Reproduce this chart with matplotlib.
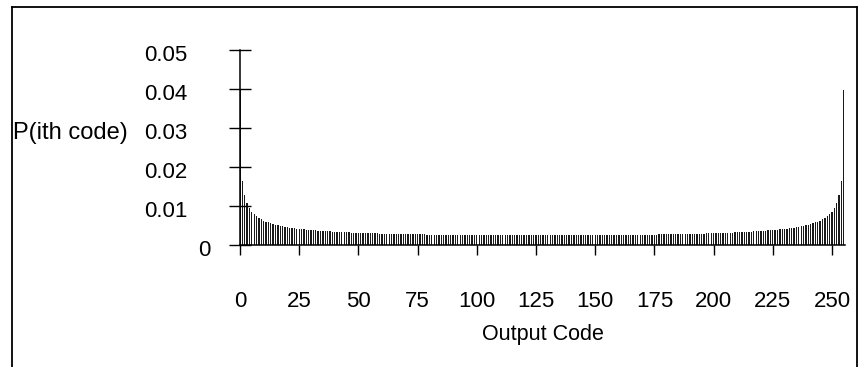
import numpy as np
import matplotlib
matplotlib.use('Agg')
from matplotlib import pyplot as plt
from matplotlib import transforms
from matplotlib import font_manager
from matplotlib.lines import Line2D

# a narrow face is closest to the original; fall back to Liberation Sans
installed = {f.name for f in font_manager.fontManager.ttflist}
if 'Liberation Sans Narrow' in installed:
    plt.rcParams['font.family'] = ['Liberation Sans Narrow', 'DejaVu Sans']
    tick_fs, xlab_fs, ylab_fs = 16.5, 17, 17
else:
    plt.rcParams['font.family'] = ['Liberation Sans', 'DejaVu Sans']
    tick_fs, xlab_fs, ylab_fs = 16, 15.5, 17

# probability of each output code
prob = [
    0.03981, 0.01653, 0.01271, 0.01073, 0.00948, 0.00858, 0.00791, 0.00738, 0.00694, 0.00658, 0.00627, 0.00600, 0.00577, 0.00556, 0.00538, 0.00521,
    0.00506, 0.00493, 0.00480, 0.00469, 0.00458, 0.00448, 0.00439, 0.00431, 0.00423, 0.00415, 0.00408, 0.00402, 0.00395, 0.00389, 0.00384, 0.00379,
    0.00374, 0.00369, 0.00364, 0.00360, 0.00356, 0.00352, 0.00348, 0.00344, 0.00341, 0.00337, 0.00334, 0.00331, 0.00328, 0.00325, 0.00323, 0.00320,
    0.00317, 0.00315, 0.00313, 0.00310, 0.00308, 0.00306, 0.00304, 0.00302, 0.00300, 0.00298, 0.00296, 0.00294, 0.00293, 0.00291, 0.00290, 0.00288,
    0.00286, 0.00285, 0.00284, 0.00282, 0.00281, 0.00280, 0.00278, 0.00277, 0.00276, 0.00275, 0.00274, 0.00273, 0.00272, 0.00271, 0.00270, 0.00269,
    0.00268, 0.00267, 0.00266, 0.00265, 0.00264, 0.00264, 0.00263, 0.00262, 0.00261, 0.00261, 0.00260, 0.00259, 0.00259, 0.00258, 0.00258, 0.00257,
    0.00257, 0.00256, 0.00256, 0.00255, 0.00255, 0.00254, 0.00254, 0.00253, 0.00253, 0.00253, 0.00252, 0.00252, 0.00252, 0.00251, 0.00251, 0.00251,
    0.00251, 0.00250, 0.00250, 0.00250, 0.00250, 0.00250, 0.00249, 0.00249, 0.00249, 0.00249, 0.00249, 0.00249, 0.00249, 0.00249, 0.00249, 0.00249,
    0.00249, 0.00249, 0.00249, 0.00249, 0.00249, 0.00249, 0.00249, 0.00249, 0.00249, 0.00249, 0.00250, 0.00250, 0.00250, 0.00250, 0.00250, 0.00251,
    0.00251, 0.00251, 0.00251, 0.00252, 0.00252, 0.00252, 0.00253, 0.00253, 0.00253, 0.00254, 0.00254, 0.00255, 0.00255, 0.00256, 0.00256, 0.00257,
    0.00257, 0.00258, 0.00258, 0.00259, 0.00259, 0.00260, 0.00261, 0.00261, 0.00262, 0.00263, 0.00264, 0.00264, 0.00265, 0.00266, 0.00267, 0.00268,
    0.00269, 0.00270, 0.00271, 0.00272, 0.00273, 0.00274, 0.00275, 0.00276, 0.00277, 0.00278, 0.00280, 0.00281, 0.00282, 0.00284, 0.00285, 0.00286,
    0.00288, 0.00290, 0.00291, 0.00293, 0.00294, 0.00296, 0.00298, 0.00300, 0.00302, 0.00304, 0.00306, 0.00308, 0.00310, 0.00313, 0.00315, 0.00317,
    0.00320, 0.00323, 0.00325, 0.00328, 0.00331, 0.00334, 0.00337, 0.00341, 0.00344, 0.00348, 0.00352, 0.00356, 0.00360, 0.00364, 0.00369, 0.00374,
    0.00379, 0.00384, 0.00389, 0.00395, 0.00402, 0.00408, 0.00415, 0.00423, 0.00431, 0.00439, 0.00448, 0.00458, 0.00469, 0.00480, 0.00493, 0.00506,
    0.00521, 0.00538, 0.00556, 0.00577, 0.00600, 0.00627, 0.00658, 0.00694, 0.00738, 0.00791, 0.00858, 0.00948, 0.01073, 0.01271, 0.01653, 0.03981,
]
codes = np.arange(len(prob))

xticks = [0, 25, 50, 75, 100, 125, 150, 175, 200, 225, 250]
yticks = [0, 0.01, 0.02, 0.03, 0.04, 0.05]
ylabels = ['0', '0.01', '0.02', '0.03', '0.04', '0.05']

W, H = 860, 367
fig = plt.figure(figsize=(W / 100, H / 100), dpi=100)
ax = fig.add_axes([240 / W, 122 / H, 605 / W, 195 / H])

ax.bar(codes, prob, width=0.55, color='#1a1a1a', linewidth=0)

ax.set_xlim(0, 255.5)
ax.set_ylim(0, 0.05)
for s in ['top', 'right']:
    ax.spines[s].set_visible(False)
ax.spines['left'].set_linewidth(1.1)
ax.spines['bottom'].set_linewidth(1.1)

ax.set_xticks(xticks)
ax.set_xticklabels([str(t) for t in xticks])
ax.set_yticks(yticks)
ax.set_yticklabels(ylabels)
ax.tick_params(axis='y', direction='inout', length=16, width=1, pad=30, labelsize=tick_fs)
ax.tick_params(axis='x', direction='out', length=7, width=1, pad=26, labelsize=tick_fs)

# labels sit a little below their ticks; the zero label sits closer to the axis
for i, lab in enumerate(ax.get_yticklabels()):
    dx = 23 / 100 if i == 0 else 0
    lab.set_transform(lab.get_transform() + transforms.ScaledTranslation(dx, -3 / 100, fig.dpi_scale_trans))

ax.set_xlabel('Output Code', fontsize=xlab_fs, labelpad=9)
fig.text(13 / W, 1 - 133 / H, 'P(ith code)', fontsize=ylab_fs, ha='left', va='center')

# outer frame
for xs, ys in [([12 / W, 12 / W], [-0.05, 1 - 7 / H]),
               ([12 / W, 857 / W], [1 - 7 / H, 1 - 7 / H]),
               ([857 / W, 857 / W], [1 - 7 / H, -0.05])]:
    fig.add_artist(Line2D(xs, ys, transform=fig.transFigure, color='black', linewidth=1.3))

fig.savefig('out.png', dpi=100)
